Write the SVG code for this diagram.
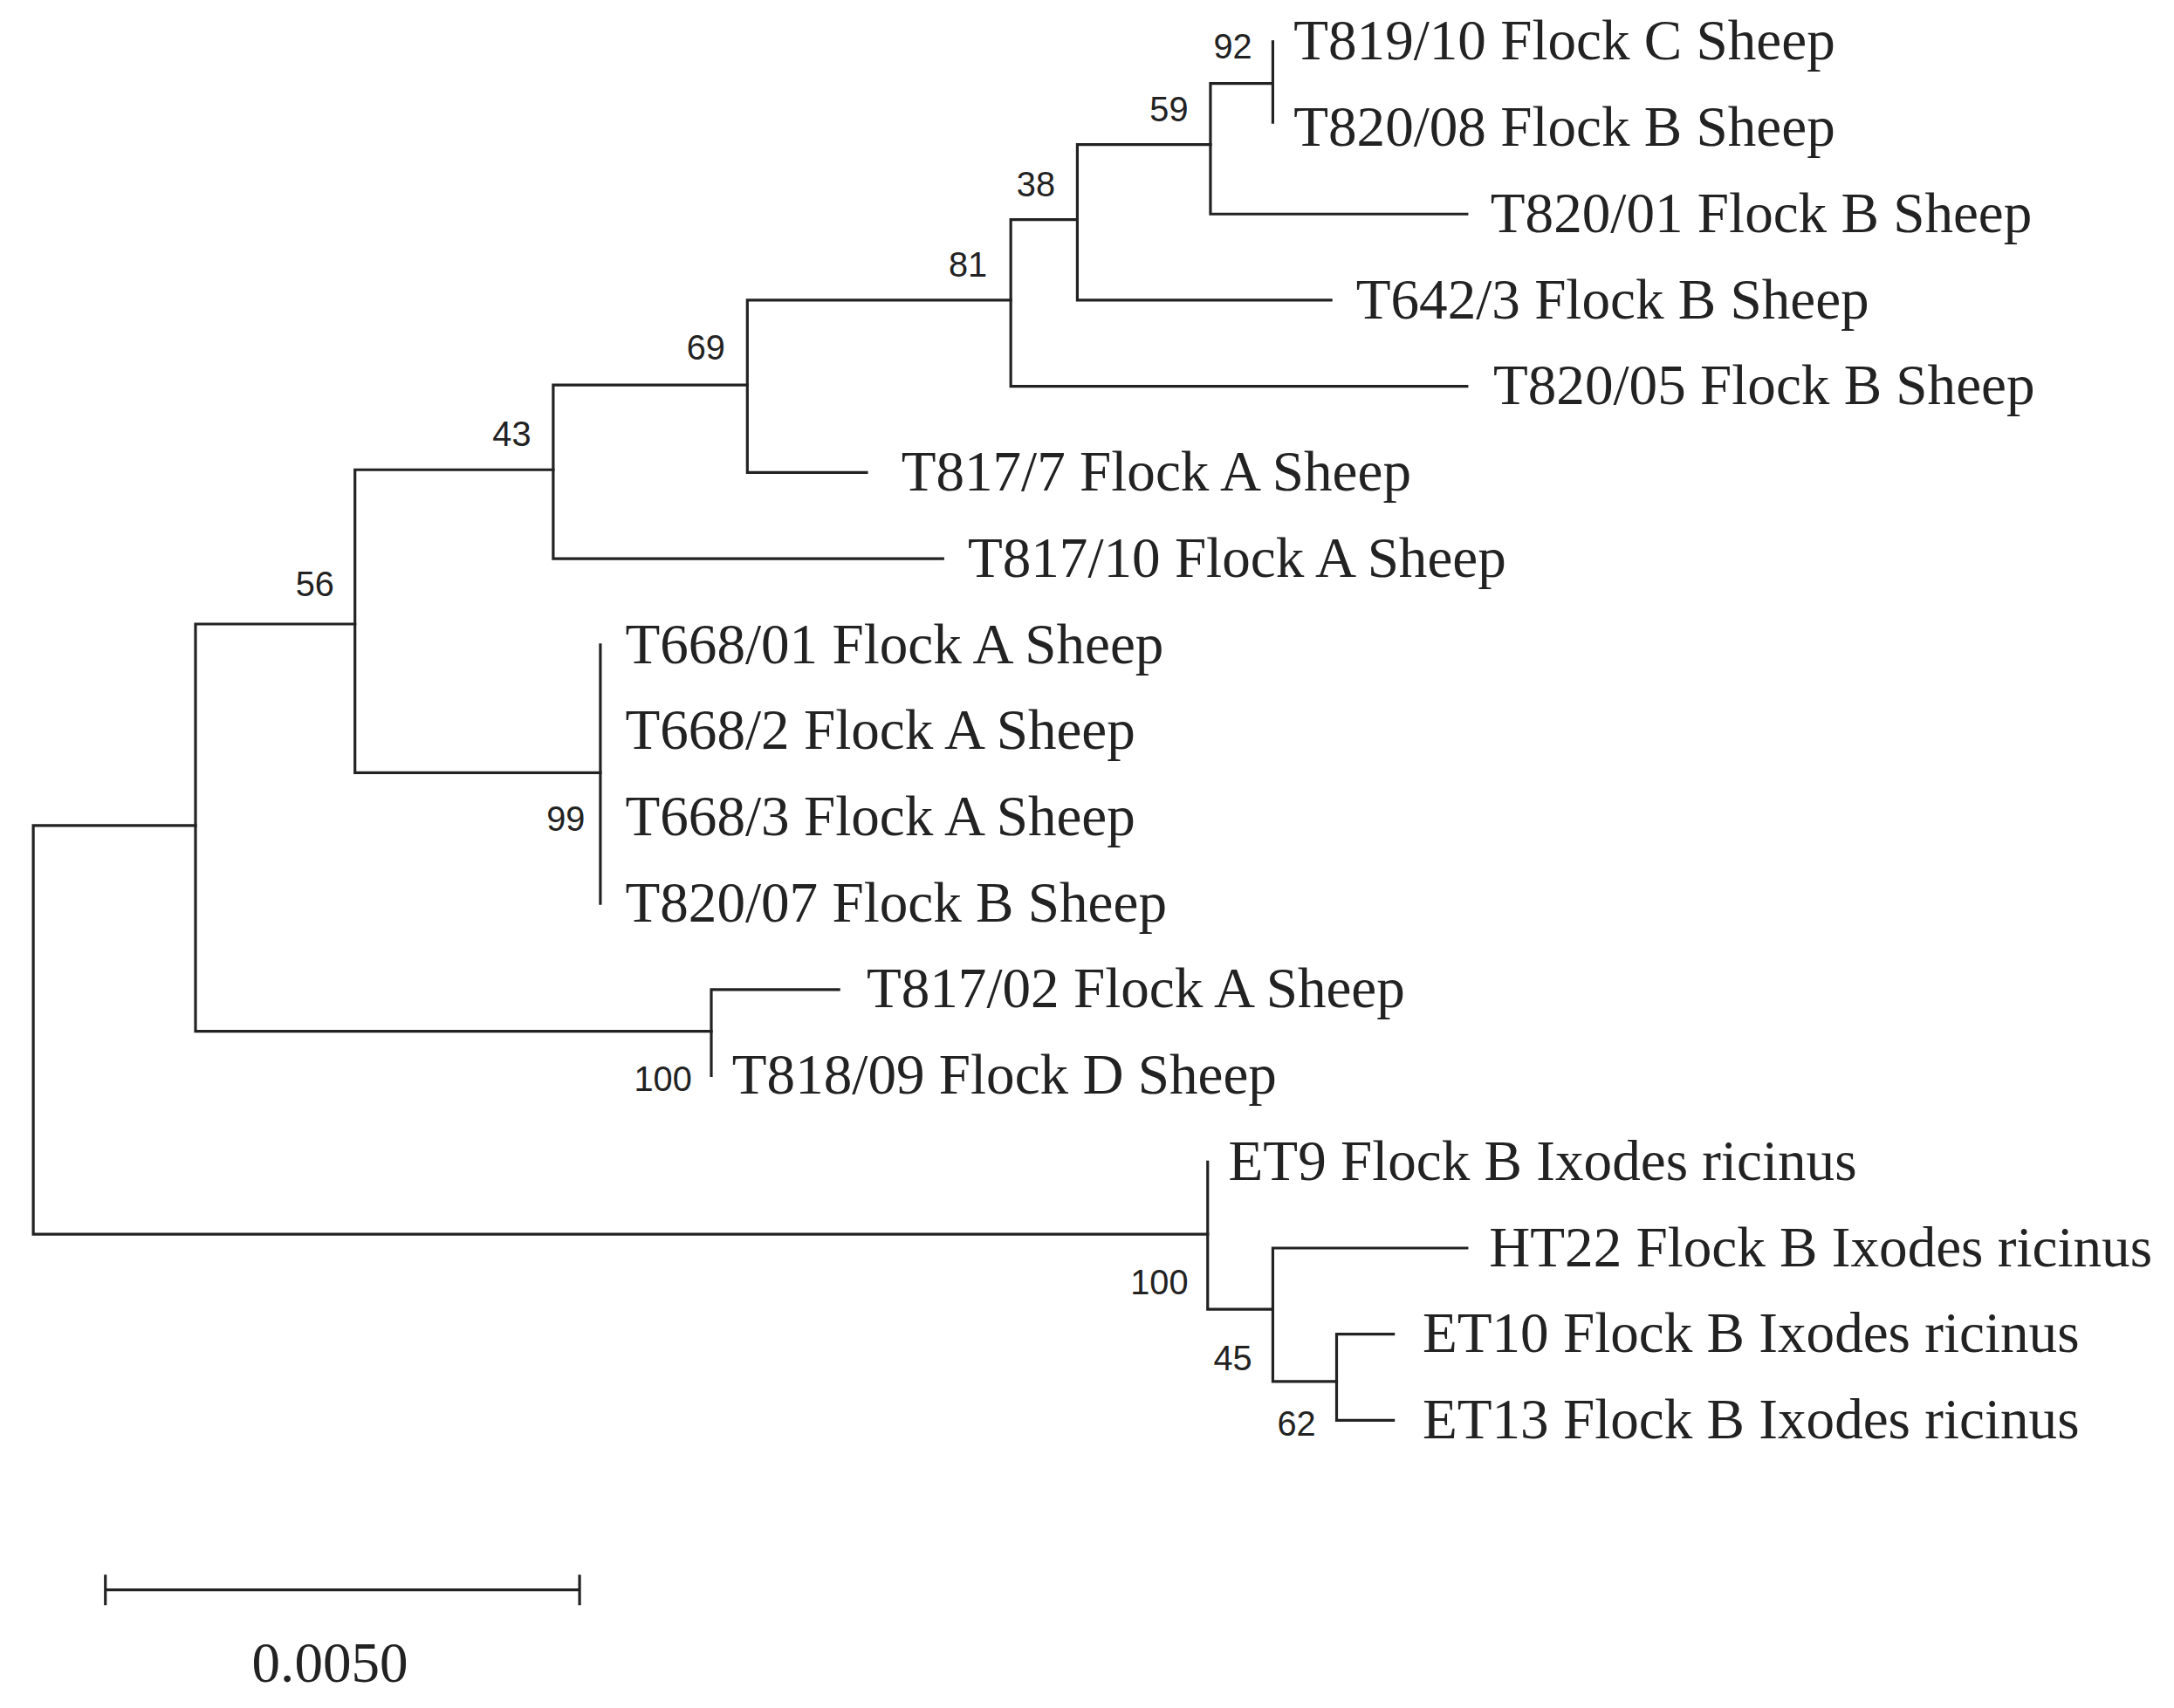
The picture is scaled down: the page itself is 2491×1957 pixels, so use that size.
<svg xmlns="http://www.w3.org/2000/svg" width="2491" height="1957" viewBox="0 0 2491 1957">
<style>
.e{stroke:#222;stroke-width:2;fill:none;stroke-linecap:square}
.l{font-family:"Liberation Serif",serif;font-size:41px;fill:#222}
.b{font-family:"Liberation Sans",sans-serif;font-size:25px;fill:#222}
</style>
<rect width="2491" height="1957" fill="#fff"/>
<g transform="scale(1.5887 1.5924)">
<g id="connectors" class="e">
<path d="M24 594V888M24 594H141M24 888H871"/>
<path d="M141 449V742M141 449H256M141 742H513"/>
<path d="M513 712V774M513 712H605"/>
<path d="M256 338V556M256 338H399M256 556H433"/>
<path d="M433 464V650"/>
<path d="M399 277V402M399 277H539M399 402H680"/>
<path d="M539 216V340M539 216H729M539 340H625"/>
<path d="M729 158V278M729 158H777M729 278H1058"/>
<path d="M777 104V216M777 104H873M777 216H960"/>
<path d="M873 60V154M873 60H918M873 154H1058"/>
<path d="M918 30V88"/>
<path d="M871 836V942M871 942H918"/>
<path d="M918 898V994M918 898H1058M918 994H964"/>
<path d="M964 960V1022M964 960H1005M964 1022H1005"/>
<path d="M76 1144H418M76 1134V1154M418 1134V1154"/>
</g>
<g id="bootstrap" class="b">
<text x="903" y="42" text-anchor="end">92</text>
<text x="857" y="87" text-anchor="end">59</text>
<text x="761" y="141" text-anchor="end">38</text>
<text x="712" y="199" text-anchor="end">81</text>
<text x="523" y="259" text-anchor="end">69</text>
<text x="383" y="321" text-anchor="end">43</text>
<text x="241" y="429" text-anchor="end">56</text>
<text x="422" y="598" text-anchor="end">99</text>
<text x="499" y="785" text-anchor="end">100</text>
<text x="857" y="931" text-anchor="end">100</text>
<text x="903" y="986" text-anchor="end">45</text>
<text x="949" y="1033" text-anchor="end">62</text>
</g>
<g id="n1"><text class="l" x="933" y="43">T819/10 Flock C Sheep</text></g>
<g id="n2"><text class="l" x="933" y="105">T820/08 Flock B Sheep</text></g>
<g id="n3"><text class="l" x="1075" y="167">T820/01 Flock B Sheep</text></g>
<g id="n4"><text class="l" x="978" y="229">T642/3 Flock B Sheep</text></g>
<g id="n5"><text class="l" x="1077" y="291">T820/05 Flock B Sheep</text></g>
<g id="n6"><text class="l" x="650" y="353">T817/7 Flock A Sheep</text></g>
<g id="n7"><text class="l" x="698" y="415">T817/10 Flock A Sheep</text></g>
<g id="n8"><text class="l" x="451" y="477">T668/01 Flock A Sheep</text></g>
<g id="n9"><text class="l" x="451" y="539">T668/2 Flock A Sheep</text></g>
<g id="n10"><text class="l" x="451" y="601">T668/3 Flock A Sheep</text></g>
<g id="n11"><text class="l" x="451" y="663">T820/07 Flock B Sheep</text></g>
<g id="n12"><text class="l" x="625" y="725">T817/02 Flock A Sheep</text></g>
<g id="n13"><text class="l" x="528" y="787">T818/09 Flock D Sheep</text></g>
<g id="n14"><text class="l" x="886" y="849">ET9 Flock B Ixodes ricinus</text></g>
<g id="n15"><text class="l" x="1074" y="911">HT22 Flock B Ixodes ricinus</text></g>
<g id="n16"><text class="l" x="1026" y="973">ET10 Flock B Ixodes ricinus</text></g>
<g id="n17"><text class="l" x="1026" y="1035">ET13 Flock B Ixodes ricinus</text></g>
<g id="scale"><text class="l" x="238" y="1210" text-anchor="middle">0.0050</text></g>
</g>
</svg>
